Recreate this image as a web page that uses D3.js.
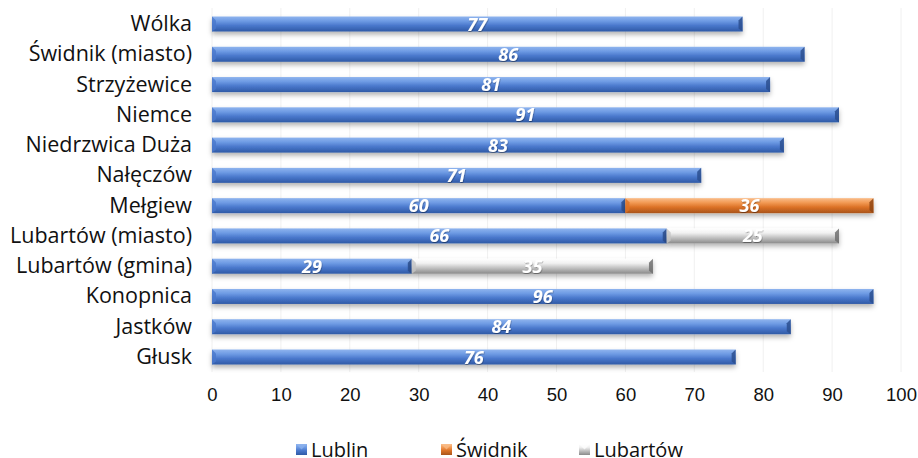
<!DOCTYPE html>
<html>
<head>
<meta charset="utf-8">
<script src="https://cdn.jsdelivr.net/npm/d3@7"></script>
<style>
  html, body { margin: 0; padding: 0; background: #fff; }
  svg { display: block; font-family: "Open Sans", Lato, sans-serif; }
</style>
</head>
<body>
<svg id="chart" width="918" height="458"></svg>
<script>
const categories = ["Wólka", "Świdnik (miasto)", "Strzyżewice", "Niemce", "Niedrzwica Duża", "Nałęczów", "Mełgiew", "Lubartów (miasto)", "Lubartów (gmina)", "Konopnica", "Jastków", "Głusk"];
const lublin   = [77, 86, 81, 91, 83, 71, 60, 66, 29, 96, 84, 76];
const swidnik  = [0, 0, 0, 0, 0, 0, 36, 0, 0, 0, 0, 0];
const lubartow = [0, 0, 0, 0, 0, 0, 0, 25, 35, 0, 0, 0];
const seriesNames = ["Lublin", "Świdnik", "Lubartów"];
const xTicks = [0, 10, 20, 30, 40, 50, 60, 70, 80, 90, 100];

const svg = d3.select("#chart");
const defs = svg.append("defs");

const palettes = [
  { id: "gBlue",   stops: ["#8fb4ee", "#6e9be4", "#4a78cc", "#2f5aa6"], end: "#2b4f8f" },
  { id: "gOrange", stops: ["#f9bd8a", "#f29a55", "#dc7226", "#a9541a"], end: "#8f4513" },
  { id: "gGrey",   stops: ["#ffffff", "#f1f1f1", "#c4c4c4", "#8a8a8a"], end: "#6f6f6f" }
];
palettes.forEach(p => {
  const g = defs.append("linearGradient").attr("id", p.id).attr("x1", 0).attr("y1", 0).attr("x2", 0).attr("y2", 1);
  g.append("stop").attr("offset", "0%").attr("stop-color", p.stops[0]);
  g.append("stop").attr("offset", "30%").attr("stop-color", p.stops[1]);
  g.append("stop").attr("offset", "60%").attr("stop-color", p.stops[2]);
  g.append("stop").attr("offset", "100%").attr("stop-color", p.stops[3]);
});
const f = defs.append("filter").attr("id", "shadow").attr("x", "-5%").attr("y", "-50%").attr("width", "110%").attr("height", "250%");
f.append("feDropShadow").attr("dx", 0).attr("dy", 3).attr("stdDeviation", 2.4).attr("flood-color", "#000").attr("flood-opacity", 0.3);
const tf = defs.append("filter").attr("id", "tshadow").attr("x", "-20%").attr("y", "-20%").attr("width", "140%").attr("height", "140%");
tf.append("feDropShadow").attr("dx", 0.5).attr("dy", 1).attr("stdDeviation", 0.6).attr("flood-color", "#000").attr("flood-opacity", 0.35);

const x = d3.scaleLinear().domain([0, 100]).range([212, 901]);
const y = d3.scalePoint().domain(categories).range([24, 357]);
const barH = 15;

// gridlines
svg.append("g").selectAll("line").data(xTicks).join("line")
  .attr("x1", d => x(d)).attr("x2", d => x(d))
  .attr("y1", 8).attr("y2", 372)
  .attr("stroke", "#f0f0f0").attr("stroke-width", 1);

// stacked segments
const series = [lublin, swidnik, lubartow];
const segs = [];
categories.forEach((c, i) => {
  let acc = 0;
  series.forEach((s, k) => {
    const v = s[i];
    if (v > 0) { segs.push({ c, k, x0: acc, x1: acc + v, v }); acc += v; }
  });
});

const gBars = svg.append("g");
segs.forEach(s => {
  const g = gBars.append("g");
  const x0 = x(s.x0), x1 = x(s.x1), yt = y(s.c) - barH / 2;
  g.append("rect").attr("x", x0).attr("y", yt).attr("width", x1 - x0).attr("height", barH)
    .attr("fill", `url(#${palettes[s.k].id})`).attr("filter", "url(#shadow)");
  const b = 4;
  g.append("path")
    .attr("d", `M${x1 - b},${yt + b} L${x1},${yt} L${x1},${yt + barH} L${x1 - b},${yt + barH - 3} Z`)
    .attr("fill", palettes[s.k].end).attr("opacity", 0.85);
  g.append("path")
    .attr("d", `M${x0},${yt} L${x0 + b},${yt + b} L${x0 + b},${yt + barH - 3} L${x0},${yt + barH} Z`)
    .attr("fill", palettes[s.k].stops[2]).attr("opacity", 0.8);
});

// value labels
svg.append("g").selectAll("text").data(segs).join("text")
  .attr("x", d => (x(d.x0) + x(d.x1)) / 2)
  .attr("y", d => y(d.c) + 6.5)
  .attr("text-anchor", "middle")
  .attr("fill", "#fff").attr("font-weight", "bold").attr("font-style", "italic")
  .attr("font-size", 18).attr("filter", "url(#tshadow)")
  .text(d => d.v);

// category labels
svg.append("g").selectAll("text").data(categories).join("text")
  .attr("x", 192).attr("y", d => y(d) + 7)
  .attr("text-anchor", "end").attr("font-size", 21.5).attr("fill", "#111")
  .text(d => d);

// x axis tick labels
const xAxis = d3.axisBottom(x).tickValues(xTicks).tickSize(0).tickPadding(0);
const ax = svg.append("g").attr("transform", "translate(0,385)").call(xAxis);
ax.select(".domain").remove();
ax.selectAll("text").attr("font-size", 18.5).attr("fill", "#111").attr("font-family", null).attr("dy", "0.85em");

// legend
const legX = [296, 441, 579];
const legend = svg.append("g").selectAll("g").data(seriesNames).join("g")
  .attr("transform", (d, i) => `translate(${legX[i]},444)`);
legend.append("rect").attr("x", 0).attr("y", 0).attr("width", 11).attr("height", 11)
  .attr("fill", (d, i) => `url(#${palettes[i].id})`);
legend.append("path").attr("d", "M0,0 L5.5,5.5 L11,0 Z").attr("fill", (d, i) => palettes[i].stops[0]).attr("opacity", 0.7);
legend.append("text").attr("x", 15).attr("y", 12.5).attr("font-size", 20).attr("fill", "#111").text(d => d);
</script>
</body>
</html>
